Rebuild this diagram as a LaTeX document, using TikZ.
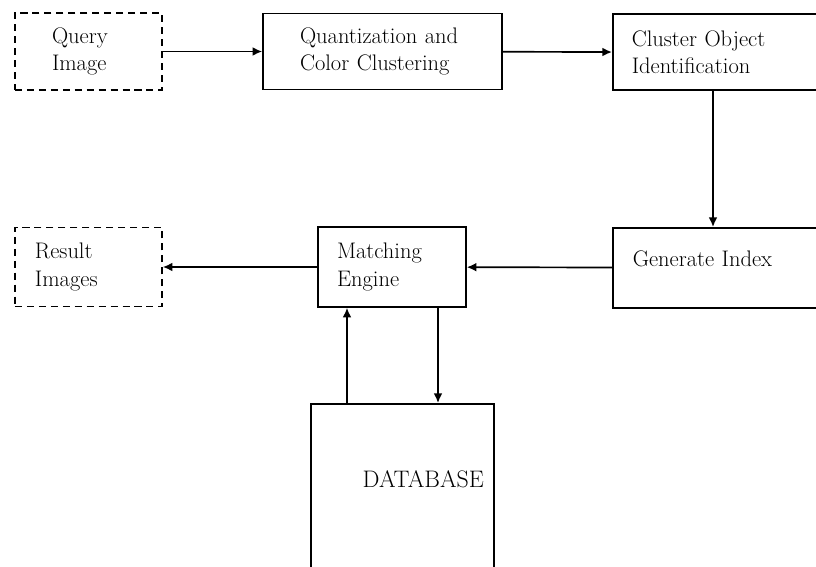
\documentclass[tikz,border=0pt]{standalone}
\usetikzlibrary{arrows.meta}

\begin{document}
\begin{tikzpicture}[
  font=\fontsize{16}{19.5}\selectfont,
  stage/.style={draw,line width=1.1pt,inner ysep=0pt,align=left},
  dashedstage/.style={stage,dash pattern=on 5pt off 3.5pt},
  arr/.style={line width=1.2pt,-{Latex[length=2.4mm,width=2.2mm]}}
]
\useasboundingbox (0,0) rectangle (20.4,-14.175);

\node [dashedstage,text width=1.825cm,inner xsep=0.925cm,minimum height=1.925cm] (query) at (2.2125,-1.2875) {Query\\Image};
\node [stage,text width=4.125cm,inner xsep=0.925cm,minimum height=1.9cm] (quant) at (9.5625,-1.2875) {Quantization and\\Color Clustering};
\node [stage,anchor=north west,text width=4.6cm,inner xsep=0.475cm,minimum height=1.9cm] (cluster) at (15.3,-0.3375) {Cluster Object\\Identification};

\node [stage,anchor=north west,text width=4.6cm,inner xsep=0.5cm,minimum height=2cm,text height=0.4cm,text depth=0.45cm] (gen) at (15.3,-5.675) {Generate Index};
\node [stage,text width=2.75cm,inner xsep=0.475cm,minimum height=2cm] (match) at (9.8,-6.675) {Matching\\Engine};
\node [dashedstage,text width=2.675cm,inner xsep=0.5cm,minimum height=1.975cm] (result) at (2.2125,-6.675) {Result\\Images};

\node [stage,anchor=north west,align=right,text width=4.075cm,inner xsep=0.25cm,text height=2.1cm,text depth=2.6cm,font=\fontsize{17}{20}\selectfont] (db) at (7.75,-10.075) {DATABASE};

\draw[arr] (query) -- (quant);
\draw[arr] (quant) -- (cluster);
\draw[arr] ([xshift=2.525cm]cluster.south west) -- ([xshift=2.525cm]cluster.south west |- gen.north);
\draw[arr] (gen) -- (match);
\draw[arr] (match) -- (result);
\draw[arr] ([xshift=0.925cm]db.north west) -- ([xshift=0.925cm]db.north west |- match.south);
\draw[arr] ([xshift=3.2cm]db.north west |- match.south) -- ([xshift=3.2cm]db.north west);

\end{tikzpicture}
\end{document}
